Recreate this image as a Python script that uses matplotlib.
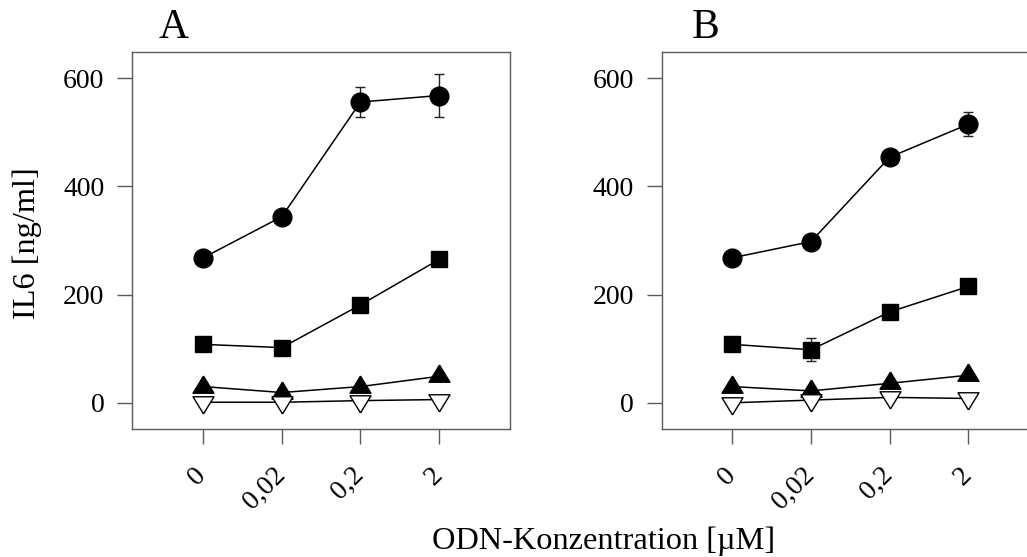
import matplotlib
matplotlib.use("Agg")
import matplotlib.pyplot as plt
import matplotlib.transforms as mtransforms
import numpy as np

plt.rcParams["font.family"] = ["Liberation Serif", "DejaVu Serif"]

# ODN concentrations (categorical x axis)
conc_labels = ["0", "0,02", "0,2", "2"]

# IL6 [ng/ml], panel A
a_circle = [268, 344, 556, 568]
a_circle_err = [0, 0, 28, 39]
a_square = [108, 102, 181, 265]
a_tri_up = [30, 19, 30, 49]
a_tri_down = [1, 1, 4, 6]

# IL6 [ng/ml], panel B
b_circle = [268, 298, 454, 515]
b_circle_err = [0, 0, 0, 22]
b_square = [108, 98, 168, 215]
b_square_err = [0, 21, 0, 0]
b_tri_up = [30, 22, 36, 51]
b_tri_down = [0, 5, 10, 8]

W, H = 1027, 557
fig = plt.figure(figsize=(W / 100, H / 100), dpi=100)

SPINE = "#5a5a5a"

# flat triangles centred on their centroid rather than their bounding box
TRI_UP = [(0, 1.64), (-1.5, -0.82), (1.5, -0.82), (0, 1.64)]
TRI_DOWN = [(0, -1.64), (1.5, 0.82), (-1.5, 0.82), (0, -1.64)]


def draw_panel(ax, circle, square, tri_up, tri_down, circle_err, square_err):
    x = np.arange(len(conc_labels))
    line_kw = dict(color="black", lw=1.1, mec="black", mew=1)

    for vals, err in ((circle, circle_err), (square, square_err)):
        err = np.asarray(err, dtype=float)
        m = err > 0
        if m.any():
            ax.errorbar(x[m], np.asarray(vals)[m], yerr=err[m], fmt="none",
                        ecolor="#222222", elinewidth=1, capsize=3.5,
                        capthick=1, zorder=1.5)

    ax.plot(x, circle, marker="o", ms=13.5, mfc="black", **line_kw)
    ax.plot(x, square, marker="s", ms=11.5, mfc="black", **line_kw)
    ax.plot(x, tri_up, marker=TRI_UP, ms=16.5, mfc="black", **line_kw)
    ax.plot(x, tri_down, marker=TRI_DOWN, ms=16.5, mfc="white", **line_kw)

    ax.set_xlim(-0.9, 3.9)
    ax.set_ylim(-49, 649)
    ax.set_yticks([0, 200, 400, 600])
    ax.set_xticks(x)
    ax.set_xticklabels(conc_labels, rotation=45, ha="right", va="top")
    ax.tick_params(axis="both", direction="out", length=11, width=1,
                   color=SPINE, labelsize=20, pad=9)
    # nudge the rotated labels right/down a little
    offset = mtransforms.ScaledTranslation(6 / 72, -4 / 72, fig.dpi_scale_trans)
    for lab in ax.get_xticklabels():
        lab.set_transform(lab.get_transform() + offset)
    for s in ax.spines.values():
        s.set_color(SPINE)
        s.set_linewidth(1)


ax_a = fig.add_axes([132.3 / W, 1 - 429.3 / H, 377.7 / W, 377.6 / H])
ax_b = fig.add_axes([661.5 / W, 1 - 429.3 / H, 377.7 / W, 377.6 / H])

draw_panel(ax_a, a_circle, a_square, a_tri_up, a_tri_down,
           a_circle_err, [0, 0, 0, 0])
draw_panel(ax_b, b_circle, b_square, b_tri_up, b_tri_down,
           b_circle_err, b_square_err)

fig.text(174 / W, 1 - 38 / H, "A", fontsize=30, ha="center", va="baseline")
fig.text(706 / W, 1 - 38 / H, "B", fontsize=30, ha="center", va="baseline")
fig.text(27 / W, 1 - 243 / H, "IL6 [ng/ml]", fontsize=23.3, rotation=90,
         ha="center", va="center")
fig.text(604 / W, 1 - 549 / H, "ODN-Konzentration [µM]", fontsize=23.3,
         ha="center", va="baseline")

fig.savefig("out.png", dpi=100)
